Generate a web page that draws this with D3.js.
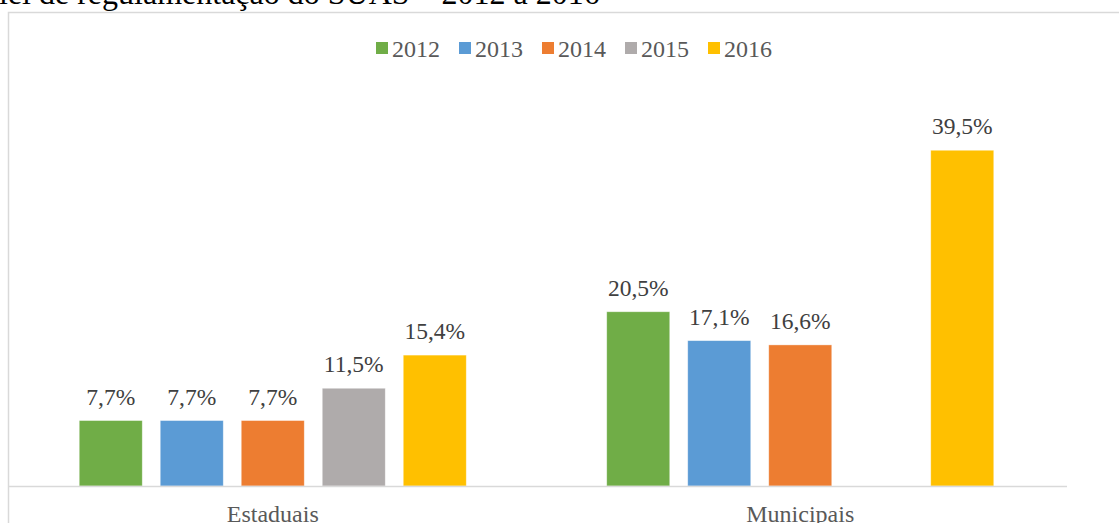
<!DOCTYPE html>
<html>
<head>
<meta charset="utf-8">
<script src="https://cdn.jsdelivr.net/npm/d3@7"></script>
<style>
    html, body { margin: 0; padding: 0; background: #fff; overflow: hidden; }
    svg { display: block; }
</style>
</head>
<body>
<div id="chart"></div>
<script>
// Chart data
const categories = ["Estaduais", "Municipais"];
const years      = ["2012", "2013", "2014", "2015", "2016"];
const estaduais  = [7.7, 7.7, 7.7, 11.5, 15.4];
const municipais = [20.5, 17.1, 16.6, null, 39.5];
const colors     = ["#70ad47", "#5b9bd5", "#ed7d31", "#afabab", "#ffc000"];
const titleText  = "lei de regulamentação do SUAS – 2012 a 2016";

const SERIF = "'Liberation Serif', 'Times New Roman', serif";
const W = 1119, H = 523;
const margin = { top: 12, left: 9, right: 55, bottom: 37 };
const plotW = W - margin.left - margin.right;
const baseY = H - margin.bottom;

const svg = d3.select("#chart").append("svg")
    .attr("width", W).attr("height", H);

// cut-off title above the chart frame
svg.append("text")
    .attr("x", -1).attr("y", 4)
    .attr("font-family", SERIF)
    .attr("font-size", "32px")
    .attr("fill", "#000")
    .text(titleText);

// chart frame (runs off the right/bottom edge)
svg.append("rect")
    .attr("x", 8.5).attr("y", 12.5)
    .attr("width", W + 20).attr("height", H + 20)
    .attr("fill", "none")
    .attr("stroke", "#d9d9d9").attr("stroke-width", 1.5);

const rows = categories.map((c, i) => ({
    cat: c,
    values: (i === 0 ? estaduais : municipais).map((v, j) => ({ year: years[j], value: v }))
}));

const x0 = d3.scaleBand()
    .domain(categories)
    .range([margin.left, margin.left + plotW])
    .paddingInner(0).paddingOuter(0);

const x1 = d3.scaleBand()
    .domain(years)
    .range([0, x0.bandwidth()])
    .paddingInner(0.222).paddingOuter(0.867);

const y = d3.scaleLinear()
    .domain([0, 40])
    .range([baseY, baseY - 340]);

const color = d3.scaleOrdinal().domain(years).range(colors);

const groups = svg.selectAll(".grp").data(rows).enter()
    .append("g").attr("class", "grp")
    .attr("transform", d => `translate(${x0(d.cat)},0)`);

groups.selectAll("rect")
    .data(d => d.values.filter(v => v.value != null)).enter()
    .append("rect")
    .attr("x", d => x1(d.year))
    .attr("y", d => y(d.value))
    .attr("width", x1.bandwidth())
    .attr("height", d => baseY - y(d.value))
    .attr("fill", d => color(d.year))
    .attr("stroke", "#fff").attr("stroke-opacity", 0.5).attr("stroke-width", 0.75);

groups.selectAll(".val")
    .data(d => d.values.filter(v => v.value != null)).enter()
    .append("text").attr("class", "val")
    .attr("x", d => x1(d.year) + x1.bandwidth() / 2)
    .attr("y", d => y(d.value) - 16)
    .attr("text-anchor", "middle")
    .attr("font-family", SERIF)
    .attr("font-size", "23.5px")
    .attr("fill", "#404040")
    .text(d => d.value.toFixed(1).replace(".", ",") + "%");

// category axis
const xAxis = svg.append("g")
    .attr("transform", `translate(0,${baseY})`)
    .call(d3.axisBottom(x0).tickSize(0));
xAxis.select(".domain")
    .attr("stroke", "#d9d9d9").attr("stroke-width", 1.5)
    .attr("d", `M${margin.left - 1},0.5H${margin.left + plotW + 3}`);
xAxis.selectAll("text")
    .attr("font-family", SERIF)
    .attr("font-size", "24px")
    .attr("fill", "#595959")
    .attr("dy", null)
    .attr("y", 36);

// legend
const legendX = d3.scaleBand().domain(years).range([376, 791]);
const legend = svg.append("g");
const li = legend.selectAll("g").data(years).enter()
    .append("g")
    .attr("transform", d => `translate(${legendX(d)},0)`);
li.append("rect")
    .attr("x", 0).attr("y", 42)
    .attr("width", 12).attr("height", 12)
    .attr("fill", d => color(d));
li.append("text")
    .attr("x", 16).attr("y", 57)
    .attr("font-family", SERIF)
    .attr("font-size", "24px")
    .attr("fill", "#595959")
    .text(d => d);
</script>
</body>
</html>
